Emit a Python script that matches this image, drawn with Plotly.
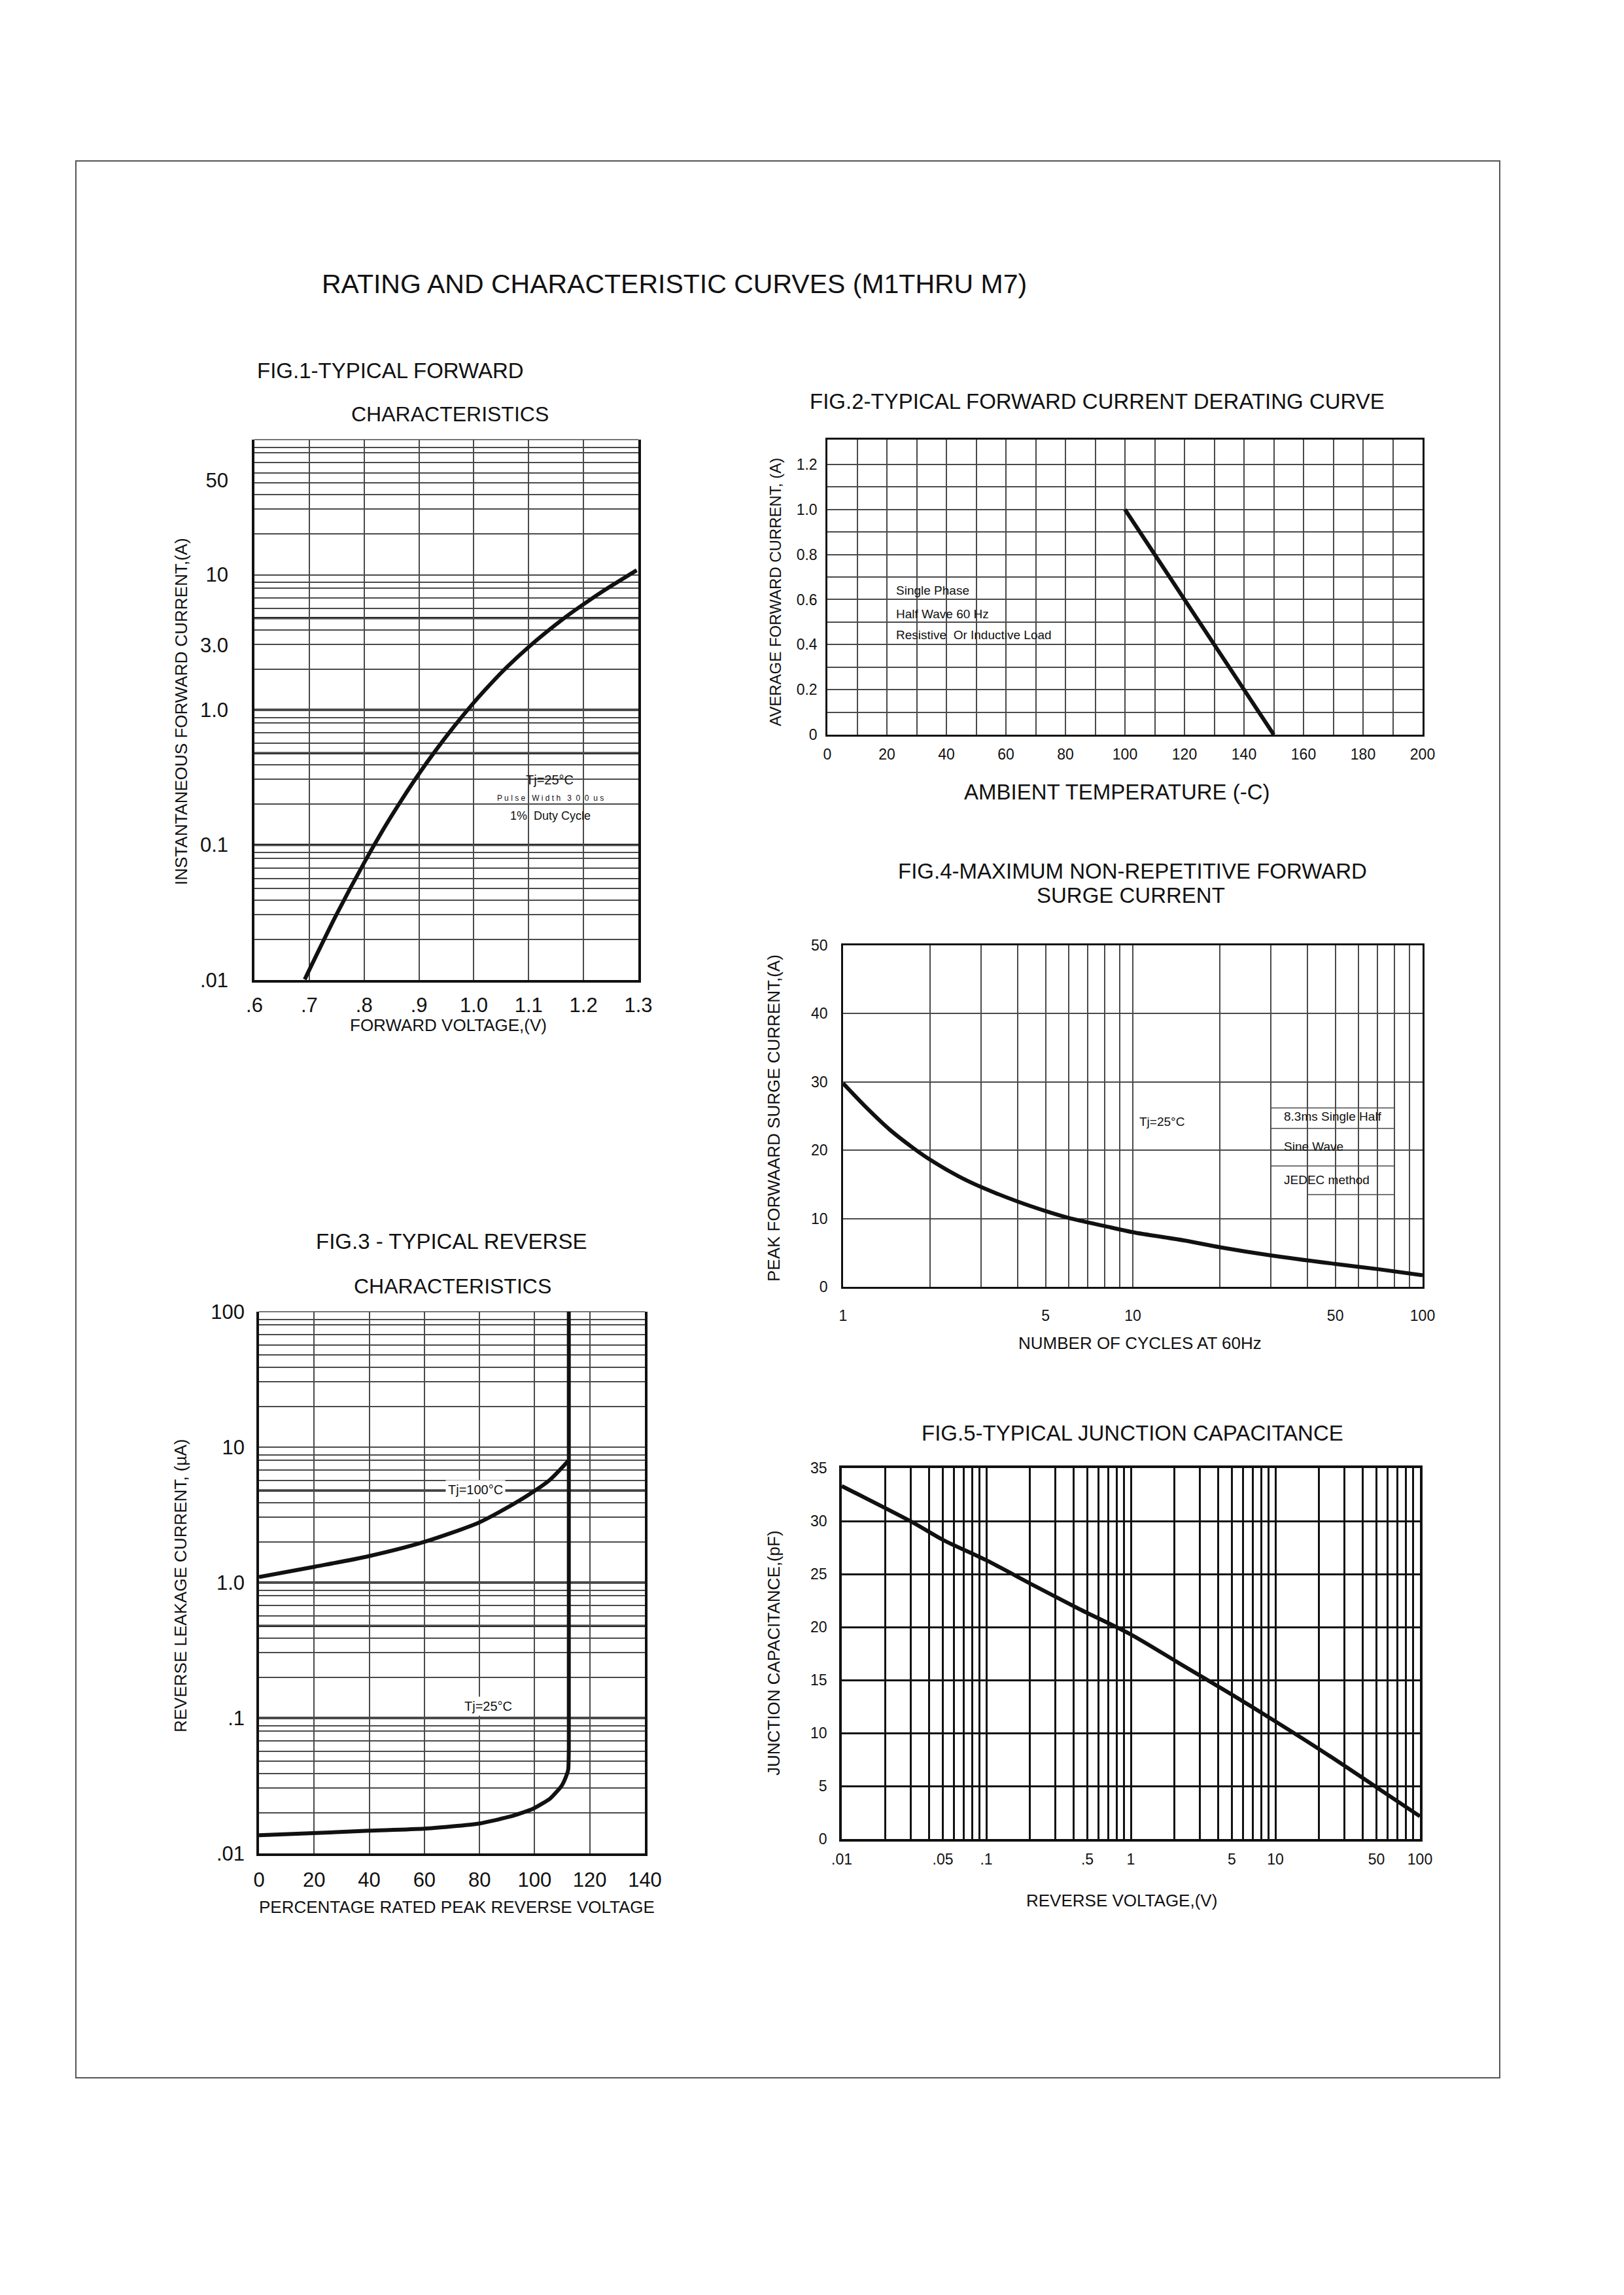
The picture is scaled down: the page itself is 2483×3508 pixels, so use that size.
import math
import plotly.graph_objects as go

# ---------------- data ----------------
FIG1_V = [0.6917, 0.7487, 0.8018, 0.8405, 0.8683, 0.900, 0.928, 0.964, 0.998,
          1.020, 1.052, 1.100, 1.167, 1.197, 1.233, 1.297]
FIG1_I = [0.0101, 0.030, 0.076, 0.142, 0.215, 0.336, 0.485, 0.753, 1.107,
          1.396, 1.918, 2.92, 4.85, 5.93, 7.45, 10.8]

FIG2_T = [100, 150]
FIG2_I = [1.0, 0.0]

FIG3_X_100 = [0, 20.3, 40, 59.7, 79.7, 88.7, 99.3, 105.6, 112.4]
FIG3_I_100 = [1.1, 1.31, 1.57, 1.99, 2.77, 3.45, 4.65, 5.75, 8.0]
FIG3_X_25 = [0, 40, 59.7, 79.7, 91.1, 99.3, 105.6, 109.8, 111.6, 112.2, 112.4, 112.4]
FIG3_I_25 = [0.0136, 0.0147, 0.0152, 0.0166, 0.0187, 0.0213, 0.0254, 0.0316, 0.0379, 0.0417, 0.06, 100]

FIG4_N = [1, 1.2, 1.45, 1.75, 2.0, 2.5, 3.0, 4.0, 5.0, 6.0, 8.0, 10, 15, 20, 30, 50, 70, 100]
FIG4_I = [29.8, 26.3, 23.0, 20.3, 18.6, 16.2, 14.6, 12.5, 11.1, 10.1, 8.9, 8.0, 6.8, 5.8, 4.6, 3.35, 2.6, 1.7]

FIG5_V = [0.01, 0.0307, 0.0505, 0.1, 0.215, 0.44, 1.0, 2.15, 4.9, 10.0, 21.6, 50.5, 100]
FIG5_C = [33.3, 29.9, 28.2, 26.3, 23.9, 21.7, 19.3, 16.6, 13.7, 11.1, 8.2, 4.85, 2.14]

# tick labels
FIG1_XTICKS = [0.6, 0.7, 0.8, 0.9, 1.0, 1.1, 1.2, 1.3]
FIG1_XLABELS = [".6", ".7", ".8", ".9", "1.0", "1.1", "1.2", "1.3"]
FIG1_YTICKS = [0.01, 0.1, 1, 3, 10, 50]
FIG1_YLABELS = [".01", "0.1", "1.0", "3.0", "10", "50"]

FIG2_XTICKS = [0, 20, 40, 60, 80, 100, 120, 140, 160, 180, 200]
FIG2_XLABELS = ["0", "20", "40", "60", "80", "100", "120", "140", "160", "180", "200"]
FIG2_YTICKS = [0, 0.2, 0.4, 0.6, 0.8, 1.0, 1.2]
FIG2_YLABELS = ["0", "0.2", "0.4", "0.6", "0.8", "1.0", "1.2"]

FIG3_XTICKS = [0, 20, 40, 60, 80, 100, 120, 140]
FIG3_XLABELS = ["0", "20", "40", "60", "80", "100", "120", "140"]
FIG3_YTICKS = [0.01, 0.1, 1, 10, 100]
FIG3_YLABELS = [".01", ".1", "1.0", "10", "100"]

FIG4_XTICKS = [1, 5, 10, 50, 100]
FIG4_XLABELS = ["1", "5", "10", "50", "100"]
FIG4_YTICKS = [0, 10, 20, 30, 40, 50]
FIG4_YLABELS = ["0", "10", "20", "30", "40", "50"]

FIG5_XTICKS = [0.01, 0.05, 0.1, 0.5, 1, 5, 10, 50, 100]
FIG5_XLABELS = [".01", ".05", ".1", ".5", "1", "5", "10", "50", "100"]
FIG5_YTICKS = [0, 5, 10, 15, 20, 25, 30, 35]
FIG5_YLABELS = ["0", "5", "10", "15", "20", "25", "30", "35"]

# ---------------- page geometry ----------------
W, H = 2467, 3492
OFF = 8
FONT = "Liberation Sans, Arial, Helvetica, sans-serif"
INK = "#111111"
GRID = "#4a4a4a"


def px(x):
    return (x - OFF) / W


def py(y):
    return 1 - (y - OFF) / H


def dom_x(a, b):
    return [px(a), px(b)]


def dom_y(top, bottom):
    return [py(bottom), py(top)]


# chart-paper grid (the printed log paper is slightly irregular)
PAPER_STEPS = [2.0, 3.05, 3.9, 4.78, 5.65, 6.75, 8.0, 8.75]
LOG_DECADES = [0.01, 0.1, 1, 10]
LOG_GRID = [d * m for d in LOG_DECADES for m in PAPER_STEPS] + [0.01, 0.1, 1, 10, 100]
BOLD_LINES = [0.1, 0.478, 1.0, 4.78]
STD_STEPS = [2, 3, 4, 5, 6, 7, 8, 9]

fig = go.Figure()

CURVE_W = 6
SMOOTH = dict(color=INK, width=CURVE_W, shape="spline", smoothing=0.8)
fig.add_trace(go.Scatter(x=FIG1_V, y=FIG1_I, mode="lines", line=SMOOTH,
                         xaxis="x", yaxis="y", hoverinfo="skip"))
fig.add_trace(go.Scatter(x=FIG2_T, y=FIG2_I, mode="lines", line=dict(color=INK, width=CURVE_W),
                         xaxis="x2", yaxis="y2", hoverinfo="skip"))
fig.add_trace(go.Scatter(x=FIG4_N, y=FIG4_I, mode="lines", line=SMOOTH,
                         xaxis="x3", yaxis="y3", hoverinfo="skip"))
fig.add_trace(go.Scatter(x=FIG3_X_100, y=FIG3_I_100, mode="lines", line=SMOOTH,
                         xaxis="x4", yaxis="y4", hoverinfo="skip"))
fig.add_trace(go.Scatter(x=FIG3_X_25, y=FIG3_I_25, mode="lines",
                         line=dict(color=INK, width=CURVE_W, shape="spline", smoothing=0.5),
                         xaxis="x4", yaxis="y4", hoverinfo="skip"))
fig.add_trace(go.Scatter(x=FIG5_V, y=FIG5_C, mode="lines", line=SMOOTH,
                         xaxis="x5", yaxis="y5", hoverinfo="skip"))


def tfont(size):
    return dict(family=FONT, size=size, color=INK)


common = dict(ticks="", zeroline=False, fixedrange=True, showline=True, linecolor=INK, automargin=False)

layout = dict(
    width=W, height=H, margin=dict(l=0, r=0, t=0, b=0, autoexpand=False),
    paper_bgcolor="white", plot_bgcolor="white", showlegend=False,
    font=dict(family=FONT, color=INK),
    # FIG 1
    xaxis=dict(**common, domain=dom_x(389, 976), anchor="y", range=[0.6, 1.3],
               tickmode="array", tickvals=FIG1_XTICKS, ticktext=FIG1_XLABELS,
               showgrid=True, gridcolor=GRID, gridwidth=1.5, linewidth=3.5, mirror=False,
               tickfont=tfont(31), ticklabelstandoff=8),
    yaxis=dict(**common, domain=dom_y(672, 1498), anchor="x", type="log", range=[-2, 2],
               tickmode="array", tickvals=FIG1_YTICKS, ticktext=FIG1_YLABELS, showgrid=False,
               minor=dict(tickmode="array", tickvals=LOG_GRID, showgrid=True, gridcolor=GRID, gridwidth=1.5, ticks=""),
               linewidth=3.5, mirror=True, tickfont=tfont(31), ticklabelstandoff=30),
    # FIG 2
    xaxis2=dict(**common, domain=dom_x(1265, 2175), anchor="y2", range=[0, 200],
                tickmode="array", tickvals=FIG2_XTICKS, ticktext=FIG2_XLABELS,
                showgrid=True, gridcolor=GRID, gridwidth=1.5,
                minor=dict(tickmode="array", tickvals=list(range(10, 200, 20)), showgrid=True,
                           gridcolor=GRID, gridwidth=1.5, ticks=""),
                linewidth=2.5, mirror=True, tickfont=tfont(23), ticklabelstandoff=8),
    yaxis2=dict(**common, domain=dom_y(672, 1123), anchor="x2", range=[0, 1.31],
                tickmode="array", tickvals=FIG2_YTICKS, ticktext=FIG2_YLABELS,
                showgrid=True, gridcolor=GRID, gridwidth=1.5,
                minor=dict(tickmode="array", tickvals=[0.1, 0.3, 0.5, 0.7, 0.9, 1.1], showgrid=True,
                           gridcolor=GRID, gridwidth=1.5, ticks=""),
                linewidth=2.5, mirror=True, tickfont=tfont(23), ticklabelstandoff=8),
    # FIG 4
    xaxis3=dict(**common, domain=dom_x(1289, 2175), anchor="y3", type="log", range=[0, 2],
                tickmode="array", tickvals=FIG4_XTICKS, ticktext=FIG4_XLABELS,
                showgrid=True, gridcolor=GRID, gridwidth=1.5,
                minor=dict(tickmode="array", tickvals=[d * m for d in [1, 10] for m in STD_STEPS if m != 5],
                           showgrid=True, gridcolor=GRID, gridwidth=1.5, ticks=""),
                linewidth=2.5, mirror=True, tickfont=tfont(23), ticklabelstandoff=22),
    yaxis3=dict(**common, domain=dom_y(1445, 1967), anchor="x3", range=[0, 50],
                tickmode="array", tickvals=FIG4_YTICKS, ticktext=FIG4_YLABELS,
                showgrid=True, gridcolor=GRID, gridwidth=1.5,
                linewidth=2.5, mirror=True, tickfont=tfont(23), ticklabelstandoff=16),
    # FIG 3
    xaxis4=dict(**common, domain=dom_x(396, 986), anchor="y4", range=[0, 140],
                tickmode="array", tickvals=FIG3_XTICKS, ticktext=FIG3_XLABELS,
                showgrid=True, gridcolor=GRID, gridwidth=1.5, linewidth=3.5, mirror=False,
                tickfont=tfont(31), ticklabelstandoff=10),
    yaxis4=dict(**common, domain=dom_y(2005, 2833), anchor="x4", type="log", range=[-2, 2],
                tickmode="array", tickvals=FIG3_YTICKS, ticktext=FIG3_YLABELS, showgrid=False,
                minor=dict(tickmode="array", tickvals=LOG_GRID, showgrid=True, gridcolor=GRID, gridwidth=1.5, ticks=""),
                linewidth=3.5, mirror=True, tickfont=tfont(31), ticklabelstandoff=12),
    # FIG 5
    xaxis5=dict(**common, domain=dom_x(1287, 2171), anchor="y5", type="log", range=[-2, 2],
                tickmode="array", tickvals=FIG5_XTICKS, ticktext=FIG5_XLABELS,
                showgrid=True, gridcolor=INK, gridwidth=2.5,
                minor=dict(tickmode="array",
                           tickvals=[d * m for d in [0.01, 0.1, 1, 10] for m in STD_STEPS if m != 5],
                           showgrid=True, gridcolor=INK, gridwidth=2.5, ticks=""),
                linewidth=3.5, mirror=True, tickfont=tfont(23), ticklabelstandoff=8),
    yaxis5=dict(**common, domain=dom_y(2244, 2811), anchor="x5", range=[0, 35],
                tickmode="array", tickvals=FIG5_YTICKS, ticktext=FIG5_YLABELS,
                showgrid=True, gridcolor=INK, gridwidth=3,
                linewidth=3.5, mirror=True, tickfont=tfont(23), ticklabelstandoff=14),
)
fig.update_layout(**layout)

shapes = []
# page frame
shapes.append(dict(type="rect", xref="paper", yref="paper", x0=px(116), x1=px(2293), y0=py(3176), y1=py(246),
                   line=dict(color="#555555", width=2), layer="below"))
# bold chart-paper rulings (shapes take data values on log axes here)
for xa, ya in [("x", "y"), ("x4", "y4")]:
    for v in BOLD_LINES:
        shapes.append(dict(type="line", xref=xa + " domain", yref=ya, x0=0, x1=1, y0=v, y1=v,
                           line=dict(color=INK, width=3.5), layer="below"))
    shapes.append(dict(type="line", xref=xa + " domain", yref=ya + " domain", x0=0, x1=1, y0=1, y1=1,
                       line=dict(color=GRID, width=1.5), layer="below"))
# note frame of FIG.4
for (a, b, yv) in [(30, 80, 26.2), (30, 80, 23.2), (30, 80, 17.7), (40, 80, 13.5)]:
    shapes.append(dict(type="line", xref="x3", yref="y3", x0=a, x1=b, y0=yv, y1=yv,
                       line=dict(color=GRID, width=1.5), layer="below"))
fig.update_layout(shapes=shapes)

ann = []


def page_text(text, x, y, size, angle=0):
    ann.append(dict(text=text, xref="paper", yref="paper", x=px(x), y=py(y), xanchor="center", yanchor="middle",
                    showarrow=False, textangle=angle, font=dict(family=FONT, size=size, color=INK)))


def data_text(text, xr, yr, x, y, size, xanchor="left", bg=None):
    d = dict(text=text, xref=xr, yref=yr, x=x, y=y, xanchor=xanchor, yanchor="middle", showarrow=False,
             font=dict(family=FONT, size=size, color=INK))
    if bg:
        d.update(bgcolor=bg, borderpad=3)
    ann.append(d)


page_text("RATING AND CHARACTERISTIC CURVES (M1THRU M7)", 1031, 434, 41)
page_text("FIG.1-TYPICAL FORWARD", 597, 566, 33)
page_text("CHARACTERISTICS", 688, 633, 32)
page_text("FIG.2-TYPICAL FORWARD CURRENT DERATING CURVE", 1677, 613, 33)
page_text("FIG.4-MAXIMUM NON-REPETITIVE FORWARD", 1731, 1331, 33)
page_text("SURGE CURRENT", 1729, 1369, 33)
page_text("FIG.3 - TYPICAL REVERSE", 690, 1898, 33)
page_text("CHARACTERISTICS", 692, 1966, 32)
page_text("FIG.5-TYPICAL JUNCTION CAPACITANCE", 1731, 2190, 33)

page_text("FORWARD VOLTAGE,(V)", 685, 1567, 26)
page_text("INSTANTANEOUS FORWARD CURRENT,(A)", 277, 1088, 26, -90)
page_text("AMBIENT TEMPERATURE (-C)", 1708, 1210, 33)
page_text("AVERAGE FORWARD CURRENT, (A)", 1186, 905, 24, -90)
page_text("NUMBER OF CYCLES AT 60Hz", 1743, 2053, 26)
page_text("PEAK FORWAARD SURGE CURRENT,(A)", 1183, 1709, 26, -90)
page_text("PERCENTAGE RATED PEAK REVERSE VOLTAGE", 698, 2915, 26)
page_text("REVERSE LEAKAGE CURRENT, (µA)", 276, 2424, 26, -90)
page_text("REVERSE VOLTAGE,(V)", 1715, 2905, 26)
page_text("JUNCTION CAPACITANCE,(pF)", 1183, 2527, 26, -90)

# notes inside the charts (annotations on log axes use log10 positions)
data_text("Tj=25°C", "x", "y", 1.139, math.log10(0.303), 20, "center")
data_text("P u l s e   W i d t h   3  0  0  u s", "x", "y", 1.14, math.log10(0.222), 12, "center")
data_text("1%  Duty Cycle", "x", "y", 1.14, math.log10(0.164), 18, "center")

data_text("Single Phase", "x2", "y2", 22.6, 0.64, 19)
data_text("Half Wave 60 Hz", "x2", "y2", 22.6, 0.537, 19)
data_text("Resistive  Or Inductive Load", "x2", "y2", 22.6, 0.444, 19)

data_text("Tj=25°C", "x3", "y3", math.log10(10.4), 24.2, 19)
data_text("8.3ms Single Half", "x3", "y3", math.log10(32.9), 25.0, 19)
data_text("Sine Wave", "x3", "y3", math.log10(32.9), 20.5, 19)
data_text("JEDEC method", "x3", "y3", math.log10(32.9), 15.7, 19)

data_text("Tj=100°C", "x4", "y4", 78.5, math.log10(4.84), 20, "center", bg="white")
data_text("Tj=25°C", "x4", "y4", 83.2, math.log10(0.122), 20, "center", bg="white")

fig.update_layout(annotations=ann)

fig.write_html("out.html")
